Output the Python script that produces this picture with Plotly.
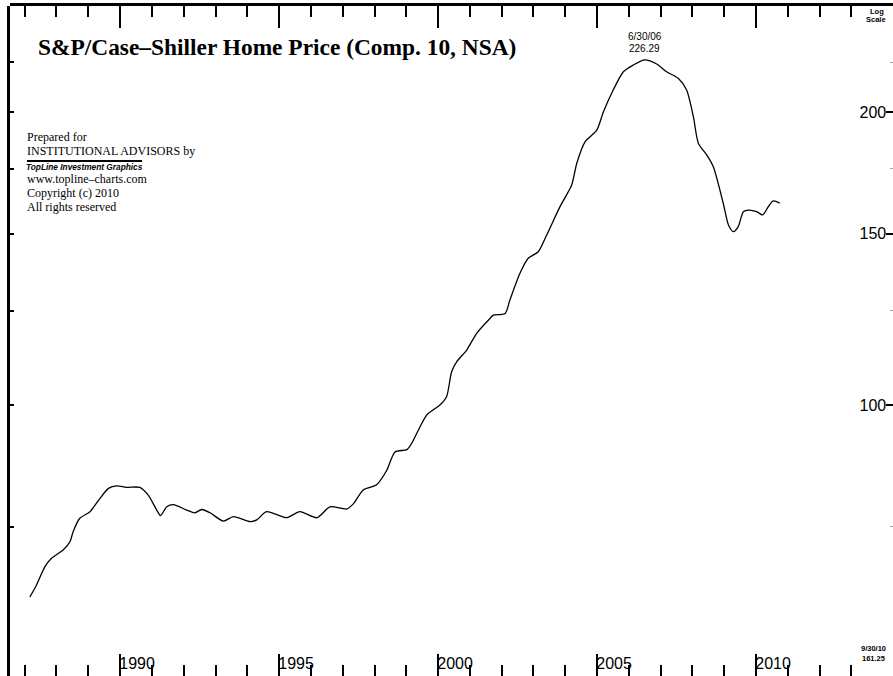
import math
import plotly.graph_objects as go

# ---- data ----
dates = [
    "1987-03-01", "1987-05-15", "1987-08-20", "1987-11-05", "1988-03-20", "1988-06-05",
    "1988-07-10", "1988-09-25", "1989-01-20", "1989-05-15", "1989-08-20", "1989-11-25",
    "1990-03-15", "1990-08-15", "1990-11-20", "1991-02-25", "1991-04-10", "1991-06-20",
    "1991-09-05", "1992-02-05", "1992-05-10", "1992-07-25", "1992-10-30", "1993-04-01",
    "1993-07-25", "1994-02-05", "1994-04-20", "1994-08-10", "1995-03-28", "1995-08-28",
    "1996-03-10", "1996-08-07", "1997-02-17", "1997-05-05", "1997-08-25", "1998-01-25",
    "1998-05-22", "1998-08-25", "1999-01-08", "1999-03-03", "1999-08-25", "2000-01-22",
    "2000-04-08", "2000-06-05", "2000-08-03", "2000-11-25", "2001-03-20", "2001-08-22",
    "2001-09-27", "2002-02-10", "2002-04-05", "2002-07-30", "2002-11-02", "2003-02-25",
    "2003-06-02", "2003-11-02", "2004-03-15", "2004-05-12", "2004-08-15", "2004-12-28",
    "2005-03-15", "2005-07-05", "2005-10-30", "2006-02-20", "2006-06-30", "2006-11-16",
    "2007-03-10", "2007-07-22", "2007-10-26", "2008-01-12", "2008-03-10", "2008-06-15",
    "2008-08-28", "2008-12-20", "2009-02-18", "2009-04-16", "2009-06-10", "2009-08-08",
    "2009-10-05", "2010-01-08", "2010-03-17", "2010-05-22", "2010-07-16", "2010-09-30",
]
values = [
    63.5, 65.3, 68.2, 69.6, 71.0, 72.4,
    74.1, 76.5, 77.7, 80.2, 82.1, 82.6,
    82.3, 82.3, 80.8, 78.0, 77.0, 78.6,
    79.0, 78.0, 77.5, 78.1, 77.5, 76.0,
    76.8, 75.9, 76.2, 77.7, 76.6, 77.7,
    76.6, 78.6, 78.2, 79.2, 81.8, 82.8,
    85.7, 89.5, 90.0, 91.3, 97.7, 100.0,
    102.0, 108.2, 110.8, 113.9, 118.5, 122.8,
    123.7, 124.2, 128.2, 136.6, 141.5, 143.7,
    149.5, 159.9, 168.3, 177.1, 186.4, 191.6,
    200.1, 210.7, 220.0, 223.5, 226.29, 224.1,
    220.0, 216.6, 210.7, 197.8, 185.7, 180.6,
    175.7, 161.2, 153.1, 150.7, 152.5, 158.0,
    158.6, 158.0, 156.8, 159.9, 162.1, 161.25,
]
x_major_years = [1990, 1995, 2000, 2005, 2010]
x_minor_years = [1987, 1988, 1989, 1991, 1992, 1993, 1994, 1996, 1997, 1998, 1999,
                 2001, 2002, 2003, 2004, 2006, 2007, 2008, 2009, 2011, 2012, 2013, 2014]
y_major_ticks = [100, 150, 200]
y_minor_ticks = [75, 125, 175, 225]
y_left_ticks = [75, 100, 125, 150, 175, 200, 225]
peak_label = "6/30/06"
peak_value_label = "226.29"
last_label = "9/30/10"
last_value_label = "161.25"

x_range = ["1986-07-16", "2014-04-23"]
y_range = [1.7216, 2.4100]  # log10 units

major_dates = [f"{y}-01-01" for y in x_major_years]
minor_dates = [f"{y}-01-01" for y in x_minor_years]

W, H = 893, 676
L, T = 10, 6
PW, PH = W - L, H - T


def px(x):
    return (x - L) / PW


def py(y):
    return 1 - (y - T) / PH


fig = go.Figure()
fig.add_trace(go.Scatter(
    x=dates, y=values, mode="lines", line_shape="spline",
    line=dict(color="black", width=1.3, smoothing=0.7),
    hoverinfo="x+y", showlegend=False,
))
# same series on a second (frame) subplot, invisible, so its left axis is drawn
fig.add_trace(go.Scatter(
    x=dates, y=values, mode="lines", xaxis="x2", yaxis="y2",
    line=dict(color="rgba(0,0,0,0)", width=0.1),
    hoverinfo="skip", showlegend=False,
))

fig.update_layout(
    width=W, height=H,
    margin=dict(l=L, r=0, t=T, b=0, pad=0),
    paper_bgcolor="white", plot_bgcolor="rgba(0,0,0,0)",
    showlegend=False,
    xaxis=dict(
        type="date", range=x_range, side="bottom", anchor="y", domain=[0, 1],
        showgrid=False, zeroline=False,
        showline=True, linewidth=2.5, linecolor="black", mirror="allticks",
        tickvals=major_dates, ticktext=[str(y) for y in x_major_years],
        ticks="inside", ticklen=22, tickwidth=2, tickcolor="black",
        ticklabelposition="inside", ticklabelshift=17, ticklabelstandoff=-18,
        tickfont=dict(family="Liberation Sans, Arial", size=16, color="black"),
        minor=dict(tickvals=minor_dates, ticks="inside",
                   ticklen=11, tickwidth=2, tickcolor="black", showgrid=False),
    ),
    yaxis=dict(
        type="log", range=y_range, side="right", anchor="x", domain=[0, 1],
        showgrid=False, zeroline=False, showline=False,
        tickvals=y_major_ticks, ticktext=[str(v) for v in y_major_ticks],
        ticks="inside", ticklen=7, tickwidth=1.5, tickcolor="black",
        ticklabelposition="inside",
        tickfont=dict(family="Liberation Sans, Arial", size=16, color="black"),
        minor=dict(tickvals=y_minor_ticks, ticks="inside", ticklen=3,
                   tickwidth=1, tickcolor="#aaaaaa", showgrid=False),
    ),
    xaxis2=dict(
        type="date", range=x_range, side="top", anchor="y2", domain=[0, 1],
        showgrid=False, zeroline=False, showline=False,
        showticklabels=False, ticks="",
    ),
    yaxis2=dict(
        type="log", range=y_range, side="left", anchor="x2", domain=[0, 1],
        showgrid=False, zeroline=False, showline=True, linewidth=2.5, linecolor="black",
        tickvals=y_left_ticks, showticklabels=False,
        ticks="inside", ticklen=4, tickwidth=1.5, tickcolor="black",
    ),
)

peak_i = values.index(max(values))

ann = []
ann.append(dict(text="<b>S&P/Case\u2013Shiller Home Price (Comp. 10, NSA)</b>",
                xref="paper", yref="paper", x=px(36), y=py(47),
                xanchor="left", yanchor="middle", showarrow=False,
                font=dict(family="Liberation Serif, Times New Roman", size=23.4, color="black")))

serif = dict(family="Liberation Serif, Times New Roman", size=12, color="black")
lines = [("Prepared for", 137), ("INSTITUTIONAL ADVISORS by", 151),
         ("www.topline\u2013charts.com", 179), ("Copyright (c) 2010", 193),
         ("All rights reserved", 207)]
for t, yy in lines:
    ann.append(dict(text=t, xref="paper", yref="paper", x=px(25), y=py(yy),
                    xanchor="left", yanchor="middle", showarrow=False, font=serif))
ann.append(dict(text="<b><i>TopLine Investment Graphics</i></b>", xref="paper", yref="paper",
                x=px(24), y=py(167), xanchor="left", yanchor="middle", showarrow=False,
                font=dict(family="Liberation Sans, Arial", size=8.3, color="black")))

small = dict(family="Liberation Sans, Arial", size=10, color="black")
ann.append(dict(text=peak_label, x=dates[peak_i], y=math.log10(values[peak_i]),
                xref="x", yref="y", xanchor="center", yanchor="middle",
                yshift=23, showarrow=False, font=small))
ann.append(dict(text=peak_value_label, x=dates[peak_i], y=math.log10(values[peak_i]),
                xref="x", yref="y", xanchor="center", yanchor="middle",
                yshift=11, showarrow=False, font=small))

tiny = dict(family="Liberation Sans, Arial", size=7.5, color="black")
ann.append(dict(text="<b>Log</b>", xref="paper", yref="paper", x=px(877), y=py(11),
                xanchor="center", yanchor="middle", showarrow=False, font=tiny))
ann.append(dict(text="<b>Scale</b>", xref="paper", yref="paper", x=px(876), y=py(19),
                xanchor="center", yanchor="middle", showarrow=False, font=tiny))
ann.append(dict(text="<b>" + last_label + "</b>", xref="paper", yref="paper", x=px(873), y=py(648),
                xanchor="center", yanchor="middle", showarrow=False, font=tiny))
ann.append(dict(text="<b>" + last_value_label + "</b>", xref="paper", yref="paper", x=px(873), y=py(658),
                xanchor="center", yanchor="middle", showarrow=False, font=tiny))

fig.update_layout(annotations=ann)

fig.add_shape(type="line", xref="paper", yref="paper",
              x0=px(27), x1=px(142), y0=py(161), y1=py(161),
              line=dict(color="black", width=2))

fig.write_html("out.html", config={"displayModeBar": False},
               post_script="document.body.style.margin='0px';")
